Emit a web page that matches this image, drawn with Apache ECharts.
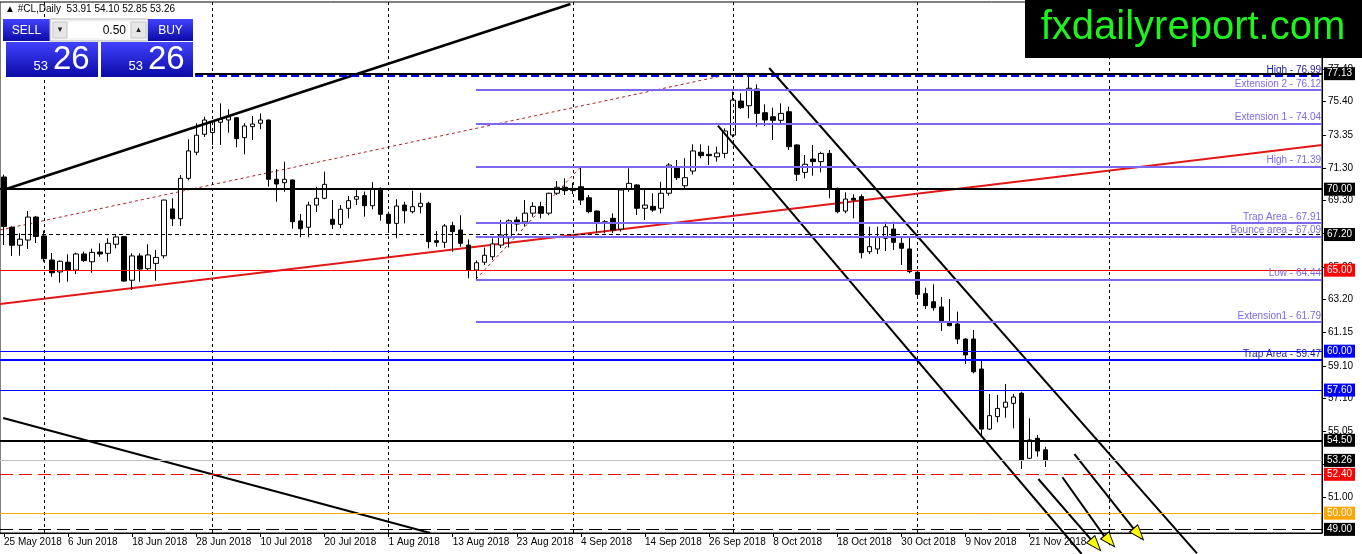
<!DOCTYPE html>
<html><head><meta charset="utf-8">
<script src="https://cdn.jsdelivr.net/npm/echarts@6/dist/echarts.min.js"></script>
<style>html,body{margin:0;padding:0;background:#fff}#c{width:1362px;height:554px}</style>
</head><body><div id="c"></div>
<script>
// ---------------- DATA ----------------
const symbolName = '#CL,Daily';
const firstBarDate = [2018, 4, 25];   // 25 May 2018 (month 0-based)
const totalSlots = 165;                // bars + empty future area
const opens = [70.75,67.65,66.54,66.86,68.28,67.11,65.63,64.89,65.49,65.01,66.00,65.52,66.12,66.04,66.60,67.07,64.38,65.88,65.09,65.42,
65.89,68.78,68.18,70.67,72.28,73.39,73.49,74.13,74.27,74.41,73.18,73.86,74.07,74.27,70.61,70.40,70.57,68.04,67.65,69.02,
69.44,68.14,67.83,68.82,69.38,69.60,68.98,70.05,68.45,67.89,69.02,68.61,68.92,69.13,66.82,66.72,67.75,67.48,66.55,65.01,
65.49,65.83,66.55,67.00,68.10,67.98,68.52,68.92,68.52,69.75,70.12,69.91,70.15,69.47,68.65,67.99,68.20,67.54,70.01,70.26,
68.82,68.94,68.82,69.75,71.39,70.21,71.12,72.28,72.15,72.00,72.21,73.34,75.44,75.15,76.18,74.72,74.47,74.25,74.78,72.73,
71.04,71.86,71.70,72.21,70.05,68.65,69.44,69.54,66.14,66.31,66.97,67.54,66.66,66.31,64.87,63.55,63.05,62.73,61.78,61.68,
60.75,60.75,58.90,55.19,55.96,56.54,56.78,57.40,53.39,54.62,53.91];
const highs = [70.90,67.70,67.28,68.65,68.35,67.44,66.06,65.60,65.98,66.08,66.14,66.33,66.66,66.97,67.16,67.11,66.04,66.04,66.60,66.25,
69.35,69.44,70.88,73.08,74.07,74.47,74.20,75.30,74.93,74.45,74.07,74.52,74.68,74.30,71.23,71.70,70.60,68.47,69.23,70.15,
71.08,69.33,69.02,69.58,69.95,69.85,70.43,70.10,68.61,69.38,69.23,69.91,69.78,69.23,67.42,67.85,67.99,68.39,66.90,65.60,
66.39,66.97,68.10,68.14,68.30,69.33,69.20,69.23,69.78,70.50,70.67,70.40,71.39,69.64,68.70,68.10,68.51,70.00,71.29,70.30,
69.95,69.75,70.46,71.60,71.80,71.91,72.77,72.77,72.68,72.62,73.76,76.02,75.92,76.95,76.47,75.24,75.03,75.30,75.09,72.77,
72.11,72.73,72.31,72.42,70.10,69.81,69.68,69.68,67.68,67.68,67.99,67.99,67.07,67.07,65.01,63.92,64.13,63.34,63.22,62.44,
60.80,61.31,59.41,57.36,57.30,57.97,57.36,57.50,55.86,54.83,54.10];
const lows = [66.55,65.88,65.89,66.31,66.68,65.52,64.60,64.23,64.29,64.76,65.50,64.84,65.83,65.52,66.35,64.29,63.78,64.29,65.01,64.35,
65.73,67.73,67.73,70.55,72.10,73.22,72.73,72.73,73.49,72.59,72.15,73.04,73.70,70.15,69.23,69.84,67.56,67.03,67.03,68.59,
69.38,67.54,67.59,68.20,69.02,68.30,68.76,68.05,67.38,66.97,67.89,68.51,68.51,66.35,66.45,66.37,66.14,66.45,64.50,64.44,
65.32,65.63,66.37,66.40,67.40,67.70,68.30,68.20,68.39,69.65,69.64,69.70,69.02,68.51,67.28,67.28,67.28,67.38,69.84,68.41,
68.10,68.61,68.51,69.60,70.57,69.95,70.90,71.91,71.49,71.70,71.91,73.20,74.95,74.38,73.86,73.90,73.04,74.01,72.42,70.50,
70.67,70.83,71.04,69.44,68.51,68.51,68.20,65.73,66.00,66.00,66.18,66.25,65.32,64.81,63.26,62.60,62.50,61.25,61.55,60.44,
59.21,58.63,54.82,55.13,55.61,55.89,55.24,52.73,53.34,53.49,52.85];
const closes = [67.70,66.54,66.91,68.28,67.08,65.71,64.84,65.55,65.01,66.00,65.59,66.10,66.00,66.66,67.05,64.33,65.88,65.07,65.94,65.79,
69.33,68.18,70.67,72.36,73.33,74.27,74.17,74.31,74.47,73.12,73.90,74.02,74.27,70.61,70.32,70.61,67.99,67.56,69.02,69.44,
70.30,67.83,68.76,69.29,69.54,68.98,70.05,68.45,67.89,68.96,68.67,68.92,69.13,66.76,66.72,67.73,67.38,66.66,65.01,65.46,
65.92,66.62,67.17,68.05,67.85,68.52,68.94,68.51,69.75,70.12,69.91,70.05,69.33,68.61,67.89,67.89,67.48,69.95,70.36,68.82,
69.02,68.71,69.75,71.49,70.71,70.71,72.36,72.07,72.07,72.23,73.59,75.50,75.03,76.23,74.68,74.27,74.25,74.68,72.62,70.92,
71.54,71.70,72.21,70.05,68.61,69.39,69.33,66.08,66.45,67.01,67.68,66.72,66.35,64.91,63.51,62.81,62.68,61.86,61.57,60.75,
59.77,58.73,55.19,56.02,56.47,56.85,57.17,53.28,54.52,53.84,53.26];

// right price scale tick labels
const yTickValues = [51.00, 53.05, 55.05, 57.10, 59.10, 61.15, 63.20, 65.20, 67.25, 69.30, 71.30, 73.35, 75.40, 77.40];
const yMin = 48.777, yMax = 81.554;

// month separators (bar indices)
const monthGridBars = [5, 26, 48, 71, 91, 114, 138];

// horizontal levels with price boxes
const boxLevels = [77.13, 70.00, 67.20, 65.00, 60.00, 57.60, 54.50, 53.26, 52.40, 50.00, 49.00];
// named fibonacci levels
const fibLevels = [76.12, 74.04, 71.39, 67.91, 67.09, 64.44, 61.79];
const fibNames  = ['Extension 2', 'Extension 1', 'High', 'Trap Area', 'Bounce area', 'Low', 'Extension1'];
// named blue levels
const blueLevels = [76.99, 59.47];
const blueNames  = ['High', 'Trap Area'];

// drawn trend lines: [barIndex, price] pairs
const trendUpperLeft  = [[-0.1, 69.95], [70.7, 81.43]];
const trendLowerLeft  = [[-0.1, 55.88], [53.2, 48.78]];
const trendRed        = [[-0.5, 62.91], [164.5, 72.73]];
const fibLineBig      = [[-0.5, 67.48], [89.1, 76.94]];
const fibLineSmall    = [[58.9, 64.44], [72, 71.39]];
const channelUpper    = [[95.5, 77.48], [148.9, 47.52]];
const channelLower    = [[89.1, 73.92], [134.5, 47.48]];
const arrowLineB      = [[129.1, 52.11], [136.5, 47.91]];
const arrowLineC      = [[132.1, 52.22], [138.1, 48.04]];
const arrowLineD      = [[133.6, 53.65], [142.0, 48.41]];
const arrowHeads      = [[136.25, 48.04], [138.0, 48.28], [141.6, 48.71]];

// ---------------- BUILD ----------------
const monthNames = ['Jan','Feb','Mar','Apr','May','Jun','Jul','Aug','Sep','Oct','Nov','Dec'];
const categories = [];
{
  let d = new Date(Date.UTC(firstBarDate[0], firstBarDate[1], firstBarDate[2]));
  for (let i = 0; i < totalSlots; i++) {
    categories.push(d.getUTCDate() + ' ' + monthNames[d.getUTCMonth()] + ' ' + d.getUTCFullYear());
    do { d.setUTCDate(d.getUTCDate() + 1); } while (d.getUTCDay() === 0 || d.getUTCDay() === 6);
  }
}
const lastBar = opens.length - 1;
const candleData = opens.map((o, i) => [o, closes[i], lows[i], highs[i]]);
const showLabel = (idx) => idx % 8 === 0 && idx <= lastBar;

const FONT = '"Liberation Sans", Arial, sans-serif';
const LAV = '#7b68ee';
const DARKBLUE = '#1a1aa8';
const xEnd = totalSlots - 0.5;

const boxStyle = {
  '77.13': {c:'#000', w:2, t:'solid', bg:'#000', start:23.85},
  '70.00': {c:'#000', w:2, t:'solid', bg:'#000'},
  '67.20': {c:'#000', w:1, t:[4,3], bg:'#000'},
  '65.00': {c:'#ff0000', w:1, t:'solid', bg:'#ff0000'},
  '60.00': {c:'#0000ff', w:1, t:'solid', bg:'#0000ff'},
  '57.60': {c:'#0000ff', w:1, t:'solid', bg:'#0000ff'},
  '54.50': {c:'#000', w:2, t:'solid', bg:'#000'},
  '53.26': {c:'#c0c0c0', w:1, t:'solid', bg:'#000'},
  '52.40': {c:'#ff0000', w:1, t:[13,6], bg:'#ff0000'},
  '50.00': {c:'#ffa500', w:1, t:'solid', bg:'#ffa500'},
  '49.00': {c:'#000', w:1, t:[13,6], bg:'#000'}
};

const ml = [];
monthGridBars.forEach(b => ml.push({xAxis: b, lineStyle:{color:'#000', width:1, type:[3,3]}, label:{show:false}}));
fibLevels.forEach((v, i) => ml.push([
  {coord:[58.9, v], lineStyle:{color:LAV, width:2, type:'solid'},
   label:{show:true, position:'insideEndTop', distance:1, formatter: fibNames[i] + ' - ' + v.toFixed(2), color:LAV, fontSize:10, fontFamily:FONT}},
  {coord:[xEnd, v]}
]));
blueLevels.forEach((v, i) => {
  const lab = {show:true, position:'insideEndTop', distance:1, formatter: blueNames[i] + ' - ' + v.toFixed(2), color:DARKBLUE, fontSize:10, fontFamily:FONT};
  if (i === 0) ml.push([{coord:[23.85, v], lineStyle:{color:'#0000ff', width:2}, label:lab}, {coord:[xEnd, v]}]);
  else ml.push({yAxis: v, lineStyle:{color:'#0000ff', width:2, type:'solid'}, label:lab});
});
boxLevels.forEach(v => {
  const s = boxStyle[v.toFixed(2)];
  const lab = {show:true, position:'end', distance:2, formatter: v.toFixed(2), color:'#fff', backgroundColor:s.bg,
               padding:[2,3,1,3], fontSize:10, fontFamily:FONT};
  const ls = {color:s.c, width:s.w, type:s.t};
  if (s.start !== undefined) ml.push([{coord:[s.start, v], lineStyle:ls, label:lab}, {coord:[xEnd, v]}]);
  else ml.push({yAxis: v, lineStyle:ls, label:lab});
});

function seg(pts, color, width, type, z) {
  return {type:'line', xAxisIndex:1, yAxisIndex:0, data:pts, symbol:'none', showSymbol:false, clip:false, silent:true,
          lineStyle:{color:color, width:width, type:type || 'solid'}, z:z || 4, animation:false};
}

const blueGrad = () => new echarts.graphic.LinearGradient(0,0,0,1,[{offset:0,color:'#4242ff'},{offset:1,color:'#0a0aa6'}]);
const lastClose = closes[lastBar].toFixed(2).split('.');
const titleText = '\u25B2 ' + symbolName + '  ' + [opens[lastBar], highs[lastBar], lows[lastBar], closes[lastBar]].map(v=>v.toFixed(2)).join(' ');

const chart = echarts.init(document.getElementById('c'), null, {renderer:'canvas'});
chart.setOption({
  animation:false,
  backgroundColor:'#fff',
  textStyle:{fontFamily:FONT},
  grid:{left:0, right:40, top:2, bottom:21, show:true, borderColor:'#000', borderWidth:1, containLabel:false, outerBoundsMode:'none'},
  xAxis:[
    {type:'category', data:categories, boundaryGap:true,
     axisLine:{show:true, onZero:false, lineStyle:{color:'#000', width:1}},
     axisTick:{show:true, interval:(i)=>showLabel(i), alignWithLabel:true, length:4, lineStyle:{color:'#000'}},
     axisLabel:{interval:(i)=>showLabel(i), align:'left', color:'#000', fontSize:10, margin:4, fontFamily:FONT, hideOverlap:false},
     splitLine:{show:false}},
    {type:'value', min:-0.5, max:xEnd, show:false, axisLine:{onZero:false}}
  ],
  yAxis:[{type:'value', position:'right', min:yMin, max:yMax, scale:true,
    axisLine:{show:true, onZero:false, lineStyle:{color:'#000', width:1}},
    axisTick:{show:true, length:4, customValues:yTickValues, lineStyle:{color:'#000'}},
    axisLabel:{customValues:yTickValues, formatter:(v)=>Number(v).toFixed(2), color:'#000', fontSize:10, margin:6, fontFamily:FONT},
    splitLine:{show:false}}],
  series:[
    {type:'line', name:'levels', xAxisIndex:1, yAxisIndex:0, data:[], silent:true, z:1,
     markLine:{symbol:['none','none'], silent:true, animation:false, data:ml, emphasis:{disabled:true}}},
    seg(trendRed, '#e01818', 2, 'solid', 2),
    seg(fibLineBig, '#b02020', 1, [3,3], 2),
    seg(fibLineSmall, '#b02020', 1, [3,3], 2),
    {type:'candlestick', xAxisIndex:0, yAxisIndex:0, data:candleData, barWidth:5, z:3, silent:true,
     itemStyle:{color:'#ffffff', color0:'#000000', borderColor:'#000000', borderColor0:'#000000', borderWidth:1}},
    seg(trendUpperLeft, '#000', 2.5),
    seg(trendLowerLeft, '#000', 2),
    seg(channelUpper, '#000', 2),
    seg(channelLower, '#000', 2),
    seg(arrowLineB, '#000', 2),
    seg(arrowLineC, '#000', 2),
    seg(arrowLineD, '#000', 2),
    {type:'scatter', xAxisIndex:1, yAxisIndex:0, clip:false, silent:true, z:6,
     data:arrowHeads, symbol:'triangle', symbolSize:[11,15], symbolRotate:-139,
     itemStyle:{color:'#ffff00', borderColor:'#000', borderWidth:1, opacity:1}}
  ],
  graphic:[
    {type:'text', z:100, style:{x:5, y:9, text:titleText, font:'10px ' + FONT, fill:'#000', textVerticalAlign:'middle'}},
    {type:'rect', z:100, shape:{x:3, y:19, width:47, height:22}, style:{fill:blueGrad()}},
    {type:'text', z:101, style:{x:26.5, y:30.5, text:'SELL', font:'12px ' + FONT, fill:'#fff', textAlign:'center', textVerticalAlign:'middle'}},
    {type:'rect', z:100, shape:{x:50, y:19, width:98, height:22}, style:{fill:'#f4f4f4', stroke:'#b8b8b8', lineWidth:1}},
    {type:'rect', z:101, shape:{x:53, y:22, width:14, height:16}, style:{fill:'#e6e6e6', stroke:'#c8c8c8'}},
    {type:'text', z:102, style:{x:60, y:30, text:'\u25BE', font:'9px "DejaVu Sans"', fill:'#222', textAlign:'center', textVerticalAlign:'middle'}},
    {type:'rect', z:101, shape:{x:68, y:22, width:62, height:16}, style:{fill:'#fff'}},
    {type:'text', z:102, style:{x:126, y:30.5, text:'0.50', font:'12px ' + FONT, fill:'#000', textAlign:'right', textVerticalAlign:'middle'}},
    {type:'rect', z:101, shape:{x:131, y:22, width:15, height:16}, style:{fill:'#e6e6e6', stroke:'#c8c8c8'}},
    {type:'text', z:102, style:{x:138.5, y:30, text:'\u25B4', font:'9px "DejaVu Sans"', fill:'#222', textAlign:'center', textVerticalAlign:'middle'}},
    {type:'rect', z:100, shape:{x:148, y:19, width:45, height:22}, style:{fill:blueGrad()}},
    {type:'text', z:101, style:{x:170.5, y:30.5, text:'BUY', font:'12px ' + FONT, fill:'#fff', textAlign:'center', textVerticalAlign:'middle'}},
    {type:'rect', z:100, shape:{x:6, y:42, width:92, height:35}, style:{fill:blueGrad()}},
    {type:'text', z:101, style:{x:48, y:73, text:lastClose[0], font:'13px ' + FONT, fill:'#fff', textAlign:'right', textVerticalAlign:'bottom'}},
    {type:'text', z:101, style:{x:53, y:76, text:lastClose[1], font:'33px ' + FONT, fill:'#fff', textAlign:'left', textVerticalAlign:'bottom'}},
    {type:'rect', z:100, shape:{x:101, y:42, width:92, height:35}, style:{fill:blueGrad()}},
    {type:'text', z:101, style:{x:143, y:73, text:lastClose[0], font:'13px ' + FONT, fill:'#fff', textAlign:'right', textVerticalAlign:'bottom'}},
    {type:'text', z:101, style:{x:148, y:76, text:lastClose[1], font:'33px ' + FONT, fill:'#fff', textAlign:'left', textVerticalAlign:'bottom'}},
    {type:'rect', z:100, shape:{x:1025, y:0, width:337, height:58}, style:{fill:'#000'}},
    {type:'text', z:101, style:{x:1193, y:28, text:'fxdailyreport.com', font:'40px ' + FONT, fill:'#1cf51c', textAlign:'center', textVerticalAlign:'middle'}}
  ]
});
</script>
</body></html>
